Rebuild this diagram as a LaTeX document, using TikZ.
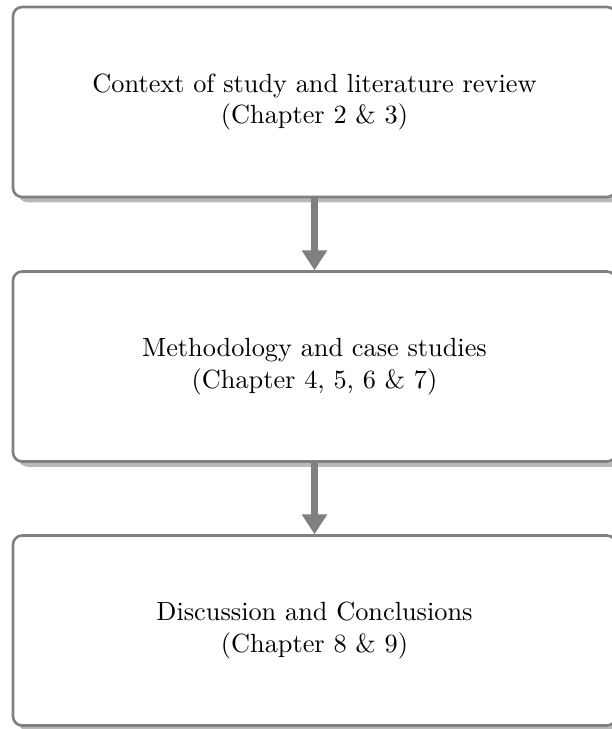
\documentclass[tikz,border=0pt]{standalone}
\usetikzlibrary{arrows.meta,shadows}
\begin{document}
\begin{tikzpicture}[x=0.38pt,y=-0.38pt,
  stagebox/.style={draw=gray, line width=1pt, rounded corners=3.5pt, fill=white,
    minimum width=603*0.38pt, minimum height=190*0.38pt, align=center,
    drop shadow={shadow xshift=2pt, shadow yshift=-2pt, fill=gray!55, opacity=1}},
  flowarrow/.style={draw=gray, line width=2.9pt, -{Triangle[width=9.2pt,length=7.5pt]}, shorten >=0pt}]
\useasboundingbox (0,0) rectangle (612,729);
\node[stagebox] (ctx) at (314.5,102) {Context of study and literature review\\(Chapter 2 \& 3)};
\node[stagebox] (meth) at (314.5,366.5) {Methodology and case studies\\(Chapter 4, 5, 6 \& 7)};
\node[stagebox] (disc) at (314.5,630.5) {Discussion and Conclusions\\(Chapter 8 \& 9)};
\draw[flowarrow] (ctx.south) -- (meth.north);
\draw[flowarrow] (meth.south) -- (disc.north);
\end{tikzpicture}
\end{document}
